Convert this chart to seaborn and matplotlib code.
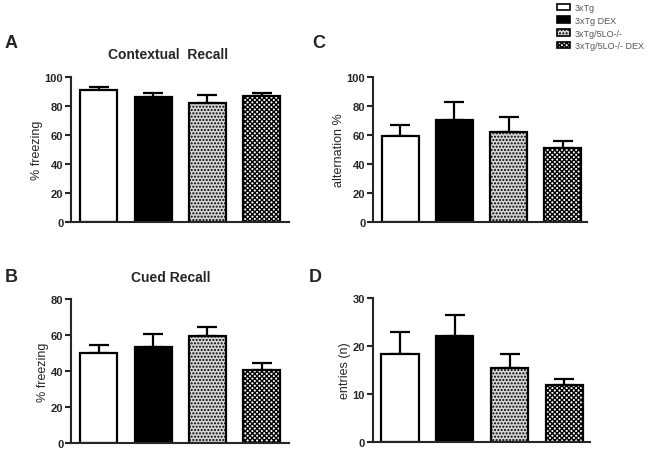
import numpy as np
import matplotlib
matplotlib.use("Agg")
import matplotlib.pyplot as plt
import seaborn as sns
from matplotlib.patches import Patch

# groups and values
groups = ["3xTg", "3xTg DEX", "3xTg/5LO-/-", "3xTg/5LO-/- DEX"]

contextual = [91.2, 86.4, 82.5, 87.1]
contextual_sem = [2.1, 3.0, 5.5, 2.3]

cued = [49.9, 53.2, 59.6, 40.6]
cued_sem = [4.6, 7.4, 5.2, 3.9]

alternation = [59.3, 70.3, 62.0, 50.6]
alternation_sem = [7.6, 12.0, 10.0, 5.3]

entries = [18.2, 22.0, 15.3, 11.8]
entries_sem = [4.7, 4.3, 2.9, 1.3]

sns.set_style("ticks")
plt.rcParams["font.family"] = ["Liberation Sans", "DejaVu Sans"]
plt.rcParams["hatch.linewidth"] = 1.0

colors = ["white", "black", "#d6d6d6", "white"]
hatches = ["", "", ".....", "xxxxxxx"]

fig = plt.figure(figsize=(6.49, 4.52), dpi=100)

# panel positions: A top-left, C top-right, B bottom-left, D bottom-right
panels = [
    ([0.1094, 0.507, 0.336, 0.320], contextual, contextual_sem, 100, [0, 20, 40, 60, 80, 100], "% freezing", (-0.51, 3.5)),
    ([0.5747, 0.507, 0.330, 0.321], alternation, alternation_sem, 100, [0, 20, 40, 60, 80, 100], "alternation %", (-0.5, 3.45)),
    ([0.1094, 0.017, 0.336, 0.319], cued, cued_sem, 80, [0, 20, 40, 60, 80], "% freezing", (-0.51, 3.5)),
    ([0.5743, 0.0206, 0.335, 0.319], entries, entries_sem, 30, [0, 10, 20, 30], "entries (n)", (-0.5, 3.47)),
]

for rect, vals, sem, ymax, yticks, ylabel, xlim in panels:
    ax = fig.add_axes(rect)
    sns.barplot(x=groups, y=vals, hue=groups, palette=colors, edgecolor="black",
                linewidth=1.6, width=0.68, errorbar=None, legend=False, ax=ax)
    for patch, h in zip(ax.patches, hatches):
        patch.set_hatch(h)
    # upward-only error bars
    ax.errorbar(range(len(groups)), vals, yerr=[np.zeros(len(vals)), sem], fmt="none",
                ecolor="black", elinewidth=1.6, capsize=7, capthick=1.6, zorder=0.5)
    ax.set_ylim(0, ymax)
    ax.set_xlim(*xlim)
    ax.set_yticks(yticks)
    ax.set_xticks([])
    ax.set_xlabel("")
    ax.set_ylabel(ylabel, fontsize=9, labelpad=1)
    for lbl in ax.get_yticklabels():
        lbl.set_fontweight("bold")
        lbl.set_fontsize(8)
    ax.tick_params(axis="y", length=4, width=1.5, pad=1.5)
    sns.despine(ax=ax)
    ax.spines["left"].set_linewidth(1.5)
    ax.spines["bottom"].set_linewidth(1.5)
    ax.patch.set_alpha(0)

# titles and panel letters
fig.text(168 / 649, 1 - 55 / 452, "Contextual  Recall", fontsize=10, fontweight="bold", ha="center", va="center")
fig.text(171 / 649, 1 - 278 / 452, "Cued Recall", fontsize=10, fontweight="bold", ha="center", va="center")
for letter, x, y in [("A", 11, 43), ("C", 319, 44), ("B", 11, 277), ("D", 315, 277)]:
    fig.text(x / 649, 1 - y / 452, letter, fontsize=13, fontweight="bold", ha="center", va="center")

# legend in top right corner
handles = [Patch(facecolor=c, edgecolor="black", hatch=h, linewidth=1.2) for c, h in zip(colors, hatches)]
fig.legend(handles, groups, loc="upper left", bbox_to_anchor=(557 / 649, 1 - 4 / 452),
           frameon=False, fontsize=6.5, handlelength=1.45, handleheight=0.7,
           handletextpad=0.55, labelspacing=0.42, borderpad=0, borderaxespad=0,
           labelcolor="#555555")

plt.savefig("out.png", dpi=100)
